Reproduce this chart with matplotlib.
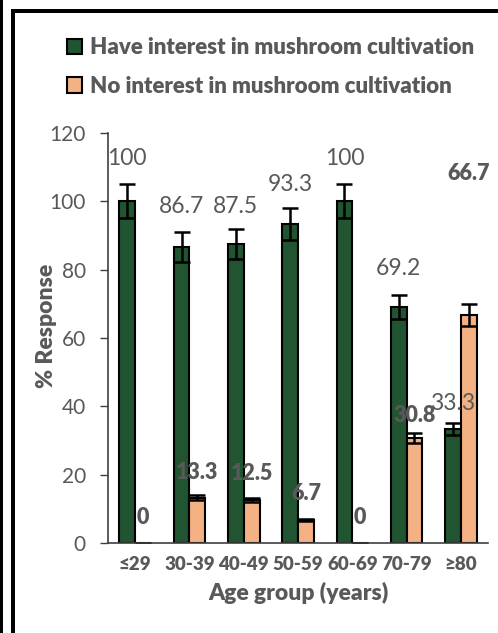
import matplotlib
matplotlib.use("Agg")
import matplotlib.pyplot as plt
from matplotlib.patches import Rectangle
import numpy as np

plt.rcParams['font.family'] = ['Lato', 'DejaVu Sans']

# Data
ages = ['≤29', '30-39', '40-49', '50-59', '60-69', '70-79', '≥80']
have_interest = [100, 86.7, 87.5, 93.3, 100, 69.2, 33.3]
no_interest = [0, 13.3, 12.5, 6.7, 0, 30.8, 66.7]
have_err = [5.0, 4.4, 4.4, 4.7, 5.0, 3.5, 1.7]
no_err = [0, 0.7, 0.6, 0.3, 0, 1.5, 3.3]

# label offsets above the bars (data units), moved by hand as in the original
have_lab_off = [12.5, 11.8, 11.0, 11.7, 12.5, 11.0, 7.5]
no_lab_off = [7.6, 7.4, 7.9, 7.9, 7.6, 6.5, 41.3]

green = '#215430'
orange = '#f4b183'
grey = '#595959'

fig = plt.figure(figsize=(4.98, 6.33), dpi=100)
ax = fig.add_axes([0.217, 0.142, 0.763, 0.648])

x = np.arange(len(ages))
w = 0.29
ax.bar(x - w / 2, have_interest, w, color=green, edgecolor='black', linewidth=1.5,
       yerr=have_err, error_kw=dict(ecolor='black', elinewidth=1.8, capsize=6, capthick=1.8),
       label='Have interest in mushroom cultivation', zorder=2)
ax.bar(x + w / 2, no_interest, w, color=orange, edgecolor='black', linewidth=1.5,
       yerr=no_err, error_kw=dict(ecolor='black', elinewidth=1.8, capsize=6, capthick=1.8),
       label='No interest in mushroom cultivation', zorder=2)

# data labels
for i in range(len(ages)):
    ax.text(x[i] - w / 2, have_interest[i] + have_lab_off[i], '%g' % have_interest[i],
            ha='center', va='center', fontsize=16.5, color=grey, zorder=3)
    ax.text(x[i] + w / 2, no_interest[i] + no_lab_off[i], '%g' % no_interest[i],
            ha='center', va='center', fontsize=15.5, fontweight='heavy', color=grey, zorder=3)

ax.set_xlim(-0.5, 6.5)
ax.set_ylim(0, 120)
ax.set_yticks(range(0, 121, 20))
ax.set_xticks(x)
ax.set_xticklabels(ages, fontsize=13.5, fontweight='heavy', color=grey)
ax.tick_params(axis='x', length=0, pad=9)
ax.tick_params(axis='y', labelsize=15, labelcolor=grey, length=6, width=1, color='#404040', pad=10)
for s in ['top', 'right']:
    ax.spines[s].set_visible(False)
for s in ['left', 'bottom']:
    ax.spines[s].set_color('#404040')
    ax.spines[s].set_linewidth(1.2)

ax.set_ylabel('% Response', fontsize=16.5, fontweight='heavy', color=grey)
ax.yaxis.set_label_coords(-0.134, 0.53)
ax.set_xlabel('Age group (years)', fontsize=16.5, fontweight='heavy', color=grey, labelpad=7)

fig.legend(loc='upper left', bbox_to_anchor=(0.094, 0.973), frameon=False,
           prop=dict(size=16, weight='heavy'), labelcolor=grey,
           handlelength=0.7, handleheight=0.7, handletextpad=0.35, labelspacing=0.8)

# outer frame lines
fig.add_artist(Rectangle((0, 0), 3 / 498, 1, transform=fig.transFigure,
                         facecolor='black', edgecolor='none'))
fig.add_artist(Rectangle((11 / 498, 0), 4 / 498, 1 - 9 / 633, transform=fig.transFigure,
                         facecolor='black', edgecolor='none'))
fig.add_artist(Rectangle((11 / 498, 1 - 13 / 633), 1, 4 / 633, transform=fig.transFigure,
                         facecolor='black', edgecolor='none'))

fig.savefig('out.png', dpi=100)
